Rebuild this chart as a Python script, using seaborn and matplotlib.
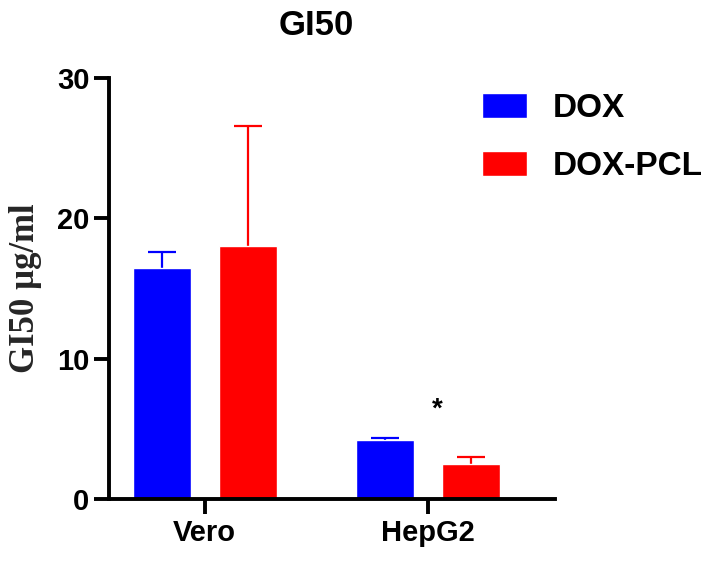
import pandas as pd
import numpy as np
import matplotlib.pyplot as plt
import seaborn as sns

# datos
lineas = ['Vero', 'HepG2']
tratamientos = ['DOX', 'DOX-PCL']
gi50_dox = [16.5, 4.2]
gi50_pcl = [18.0, 2.5]
err_dox = [1.1, 0.12]
err_pcl = [8.6, 0.5]

df = pd.DataFrame({
    'linea': lineas * 2,
    'tratamiento': [tratamientos[0]] * 2 + [tratamientos[1]] * 2,
    'gi50': gi50_dox + gi50_pcl,
    'err': err_dox + err_pcl,
})

sns.set_style('white')
plt.rcParams['font.family'] = ['Liberation Sans', 'DejaVu Sans']
plt.rcParams['text.color'] = 'black'

fig = plt.figure(figsize=(7.11, 5.62), dpi=100)
ax = fig.add_axes([0.153, 0.112, 0.628, 0.749])

colores = {'DOX': '#0000ff', 'DOX-PCL': '#ff0000'}
sns.barplot(data=df, x='linea', y='gi50', hue='tratamiento', palette=colores,
            errorbar=None, width=0.77, gap=0.33, saturation=1, ax=ax, zorder=2)

# barras de error solo hacia arriba (sin tapa inferior)
for cont, trat in zip(ax.containers, tratamientos):
    sub = df[df['tratamiento'] == trat]
    for barra, e in zip(cont, sub['err']):
        xc = barra.get_x() + barra.get_width() / 2
        h = barra.get_height()
        eb = ax.errorbar(xc, h, yerr=[[0], [e]], color=colores[trat], capsize=10,
                         elinewidth=1.6, capthick=1.6, zorder=1)
        eb[1][0].set_visible(False)

ax.text(1.04, 6.35, '*', ha='center', va='center', fontsize=20, fontweight='bold')

ax.set_xlim(-0.43, 1.57)
ax.set_ylim(0, 30)
ax.set_yticks([0, 10, 20, 30])
fig.text(0.445, 0.938, 'GI50', fontsize=25, fontweight='bold', ha='center', va='baseline')
ax.set_xlabel('')
ax.set_ylabel('GI50 µg/ml', fontsize=25, fontweight='bold',
              family=['Liberation Serif', 'DejaVu Serif'], labelpad=11)
sns.despine(ax=ax)
for s in ['left', 'bottom']:
    ax.spines[s].set_linewidth(2.8)
    ax.spines[s].set_color('black')
ax.tick_params(axis='both', direction='out', length=11, width=2.8, labelsize=21,
               colors='black', left=True, bottom=True, pad=3)
for lab in ax.get_xticklabels() + ax.get_yticklabels():
    lab.set_fontweight('bold')

ley = ax.legend(loc='upper left', bbox_to_anchor=(0.678, 0.834), bbox_transform=fig.transFigure,
                frameon=False, fontsize=24, handlelength=1.36, handleheight=0.75,
                labelspacing=0.8, handletextpad=0.75, borderpad=0, borderaxespad=0)
for t in ley.get_texts():
    t.set_fontweight('bold')

plt.savefig('out.png', dpi=100)
plt.close()
